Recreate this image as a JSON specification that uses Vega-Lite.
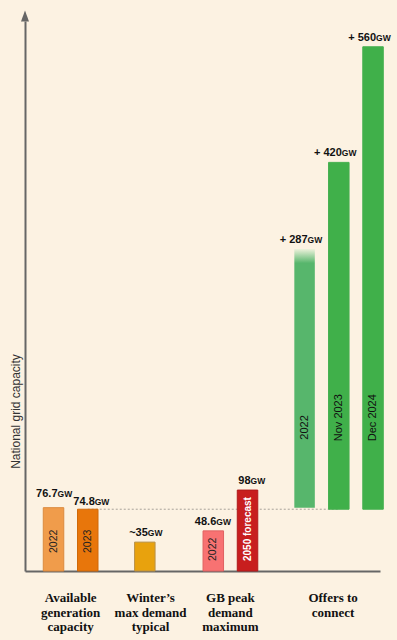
{
  "$schema": "https://vega.github.io/schema/vega-lite/v6.json",
  "width": 355,
  "height": 550,
  "autosize": "none",
  "padding": {"left": 25, "top": 21, "right": 17, "bottom": 69},
  "background": "#fcf2e2",
  "config": {"view": {"stroke": null}, "font": "Liberation Sans"},
  "datasets": {
    "bars": [
      {"key": "Available 2022", "group": "Available", "start": 0, "end": 76.7, "num": "76.7", "unit": "GW", "series": "2022"},
      {"key": "Available 2023", "group": "Available", "start": 0, "end": 74.8, "num": "74.8", "unit": "GW", "series": "2023"},
      {"key": "Winter's demand", "group": "Winter", "start": 0, "end": 35, "num": "~35", "unit": "GW", "series": ""},
      {"key": "GB peak 2022", "group": "GB", "start": 0, "end": 48.6, "num": "48.6", "unit": "GW", "series": "2022"},
      {"key": "GB peak 2050", "group": "GB", "start": 0, "end": 98, "num": "98", "unit": "GW", "series": "2050 forecast"},
      {"key": "Offers 2022", "group": "Offers", "start": 76.7, "end": 390, "num": "+ 287", "unit": "GW", "series": "2022"},
      {"key": "Offers Nov 2023", "group": "Offers", "start": 74.8, "end": 494.8, "num": "+ 420", "unit": "GW", "series": "Nov 2023"},
      {"key": "Offers Dec 2024", "group": "Offers", "start": 74.8, "end": 634.8, "num": "+ 560", "unit": "GW", "series": "Dec 2024"}
    ],
    "refline": [
      {"key": "Available 2023", "key2": "Offers Nov 2023", "level": 74.8}
    ],
    "groups": [
      {"key": "Available generation capacity", "lines": ["Available", "generation", "capacity"], "pos": "start"},
      {"key": "Winter’s max demand typical", "lines": ["Winter’s", "max demand", "typical"], "pos": "start"},
      {"key": "GB peak demand maximum", "lines": ["GB peak", "demand", "maximum"], "pos": "start"},
      {"key": "Offers to connect", "lines": ["Offers to", "connect"], "pos": "end"}
    ]
  },
  "encoding": {
    "x": {
      "field": "key",
      "type": "nominal",
      "scale": {
        "domain": ["axis", "_1", "Available 2022", "_3", "Available generation capacity", "Available 2023", "_6", "_7", "_8", "_9", "Winter's demand", "Winter’s max demand typical", "_12", "_13", "_14", "_15", "GB peak 2022", "_17", "GB peak demand maximum", "GB peak 2050", "_20", "_21", "_22", "_23", "Offers 2022", "_25", "Offers to connect", "Offers Nov 2023", "_28", "_29", "Offers Dec 2024"],
        "paddingInner": 0,
        "paddingOuter": 0.055,
        "align": 0
      },
      "axis": {"title": null, "labels": false, "ticks": false, "grid": false, "domain": true, "domainColor": "#666666", "domainWidth": 2}
    }
  },
  "layer": [
    {
      "data": {"name": "refline"},
      "mark": {"type": "rule", "color": "#a8a39a", "strokeWidth": 1, "strokeDash": [2, 2]},
      "encoding": {
        "x2": {"field": "key2"},
        "y": {
          "field": "level",
          "type": "quantitative",
          "scale": {"domain": [0, 666], "nice": false, "zero": false},
          "axis": {"title": "National grid capacity", "labels": false, "ticks": false, "grid": false, "domain": true, "domainColor": "#666666", "domainWidth": 2, "titleX": -10, "titleY": 390, "titleAngle": 270, "titleAlign": "center", "titleBaseline": "middle", "titleFont": "Liberation Sans", "titleFontSize": 12, "titleFontWeight": "normal", "titleColor": "#333333"}
        }
      }
    },
    {
      "data": {"name": "bars"},
      "transform": [{"filter": "datum.key !== 'Offers 2022'"}],
      "mark": {"type": "bar", "width": 20.5, "strokeWidth": 1},
      "encoding": {
        "y": {"field": "start", "type": "quantitative"},
        "y2": {"field": "end"},
        "fill": {
          "field": "key", "type": "nominal", "legend": null,
          "scale": {"domain": ["Available 2022", "Available 2023", "Winter's demand", "GB peak 2022", "GB peak 2050", "Offers Nov 2023", "Offers Dec 2024"],
                    "range": ["#f09c4b", "#e8760b", "#e8a20d", "#f87272", "#c81e1e", "#40b04a", "#40b04a"]}
        },
        "stroke": {
          "field": "key", "type": "nominal", "legend": null,
          "scale": {"domain": ["Available 2022", "Available 2023", "Winter's demand", "GB peak 2022", "GB peak 2050", "Offers Nov 2023", "Offers Dec 2024"],
                    "range": ["#dc8a3e", "#cf690a", "#b8924a", "#e06262", "#b01a1a", "#45b04f", "#45b04f"]}
        }
      }
    },
    {
      "data": {"name": "bars"},
      "transform": [{"filter": "datum.key === 'Offers 2022'"}],
      "mark": {
        "type": "bar", "width": 20.5,
        "color": {"x1": 0, "y1": 0, "x2": 0, "y2": 1, "gradient": "linear",
                  "stops": [{"offset": 0, "color": "#eef2dc"}, {"offset": 0.055, "color": "#57b66c"}, {"offset": 1, "color": "#57b66c"}]}
      },
      "encoding": {
        "y": {"field": "start", "type": "quantitative"},
        "y2": {"field": "end"}
      }
    },
    {
      "data": {"name": "bars"},
      "transform": [{"filter": "datum.group !== 'Available'"}],
      "mark": {"type": "text", "align": "right", "baseline": "alphabetic", "dx": 3, "dy": -6, "font": "Liberation Sans", "fontSize": 11, "fontWeight": "bold", "color": "#111111"},
      "encoding": {
        "y": {"field": "end", "type": "quantitative"},
        "text": {"field": "num"}
      }
    },
    {
      "data": {"name": "bars"},
      "transform": [{"filter": "datum.group !== 'Available'"}],
      "mark": {"type": "text", "align": "left", "baseline": "alphabetic", "dx": 3, "dy": -6, "font": "Liberation Sans", "fontSize": 8.5, "fontWeight": "bold", "color": "#111111"},
      "encoding": {
        "y": {"field": "end", "type": "quantitative"},
        "text": {"field": "unit"}
      }
    },
    {
      "data": {"name": "bars"},
      "transform": [{"filter": "datum.key === 'Available 2022'"}],
      "mark": {"type": "text", "align": "right", "baseline": "alphabetic", "dx": 4, "dy": -11, "font": "Liberation Sans", "fontSize": 11, "fontWeight": "bold", "color": "#111111"},
      "encoding": {
        "y": {"field": "end", "type": "quantitative"},
        "text": {"field": "num"}
      }
    },
    {
      "data": {"name": "bars"},
      "transform": [{"filter": "datum.key === 'Available 2022'"}],
      "mark": {"type": "text", "align": "left", "baseline": "alphabetic", "dx": 4, "dy": -11, "font": "Liberation Sans", "fontSize": 8.5, "fontWeight": "bold", "color": "#111111"},
      "encoding": {
        "y": {"field": "end", "type": "quantitative"},
        "text": {"field": "unit"}
      }
    },
    {
      "data": {"name": "bars"},
      "transform": [{"filter": "datum.key === 'Available 2023'"}],
      "mark": {"type": "text", "align": "right", "baseline": "alphabetic", "dx": 7, "dy": -4, "font": "Liberation Sans", "fontSize": 11, "fontWeight": "bold", "color": "#111111"},
      "encoding": {
        "y": {"field": "end", "type": "quantitative"},
        "text": {"field": "num"}
      }
    },
    {
      "data": {"name": "bars"},
      "transform": [{"filter": "datum.key === 'Available 2023'"}],
      "mark": {"type": "text", "align": "left", "baseline": "alphabetic", "dx": 7, "dy": -4, "font": "Liberation Sans", "fontSize": 8.5, "fontWeight": "bold", "color": "#111111"},
      "encoding": {
        "y": {"field": "end", "type": "quantitative"},
        "text": {"field": "unit"}
      }
    },
    {
      "data": {"name": "bars"},
      "transform": [{"filter": "datum.group === 'Available'"}],
      "mark": {"type": "text", "angle": -90, "align": "left", "baseline": "middle", "dx": 18, "font": "Liberation Sans", "fontSize": 10.5, "color": "#222222"},
      "encoding": {
        "y": {"field": "start", "type": "quantitative"},
        "text": {"field": "series"}
      }
    },
    {
      "data": {"name": "bars"},
      "transform": [{"filter": "datum.key === 'GB peak 2022'"}],
      "mark": {"type": "text", "angle": -90, "align": "left", "baseline": "middle", "dx": 10, "font": "Liberation Sans", "fontSize": 10.5, "color": "#222222"},
      "encoding": {
        "y": {"field": "start", "type": "quantitative"},
        "text": {"field": "series"}
      }
    },
    {
      "data": {"name": "bars"},
      "transform": [{"filter": "datum.key === 'GB peak 2050'"}],
      "mark": {"type": "text", "angle": -90, "align": "left", "baseline": "middle", "dx": 10, "font": "Liberation Sans", "fontSize": 10, "fontWeight": "bold", "color": "#ffffff"},
      "encoding": {
        "y": {"field": "start", "type": "quantitative"},
        "text": {"field": "series"}
      }
    },
    {
      "data": {"name": "bars"},
      "transform": [{"filter": "datum.group === 'Offers'"}],
      "mark": {"type": "text", "angle": -90, "align": "left", "baseline": "middle", "dx": 68, "font": "Liberation Sans", "fontSize": 11, "color": "#111111"},
      "encoding": {
        "y": {"field": "start", "type": "quantitative"},
        "text": {"field": "series"}
      }
    },
    {
      "data": {"values": [{"tip": "arrow"}]},
      "mark": {"type": "point", "shape": "M0,-1L0.73,1L-0.73,1Z", "filled": true, "color": "#666666", "opacity": 1, "size": 121},
      "encoding": {
        "x": {"datum": "axis", "bandPosition": 0},
        "y": {"datum": 672, "type": "quantitative"}
      }
    },
    {
      "data": {"name": "groups"},
      "transform": [{"filter": "datum.pos === 'start'"}],
      "mark": {"type": "text", "align": "center", "baseline": "alphabetic", "dy": 31, "lineHeight": 14.5, "font": "Liberation Serif", "fontSize": 13, "fontWeight": "bold", "color": "#111111"},
      "encoding": {
        "x": {"field": "key", "type": "nominal", "bandPosition": 0},
        "y": {"datum": 0, "type": "quantitative"},
        "text": {"field": "lines"}
      }
    },
    {
      "data": {"name": "groups"},
      "transform": [{"filter": "datum.pos === 'end'"}],
      "mark": {"type": "text", "align": "center", "baseline": "alphabetic", "dy": 31, "lineHeight": 14.5, "font": "Liberation Serif", "fontSize": 13, "fontWeight": "bold", "color": "#111111"},
      "encoding": {
        "x": {"field": "key", "type": "nominal", "bandPosition": 1},
        "y": {"datum": 0, "type": "quantitative"},
        "text": {"field": "lines"}
      }
    }
  ]
}
